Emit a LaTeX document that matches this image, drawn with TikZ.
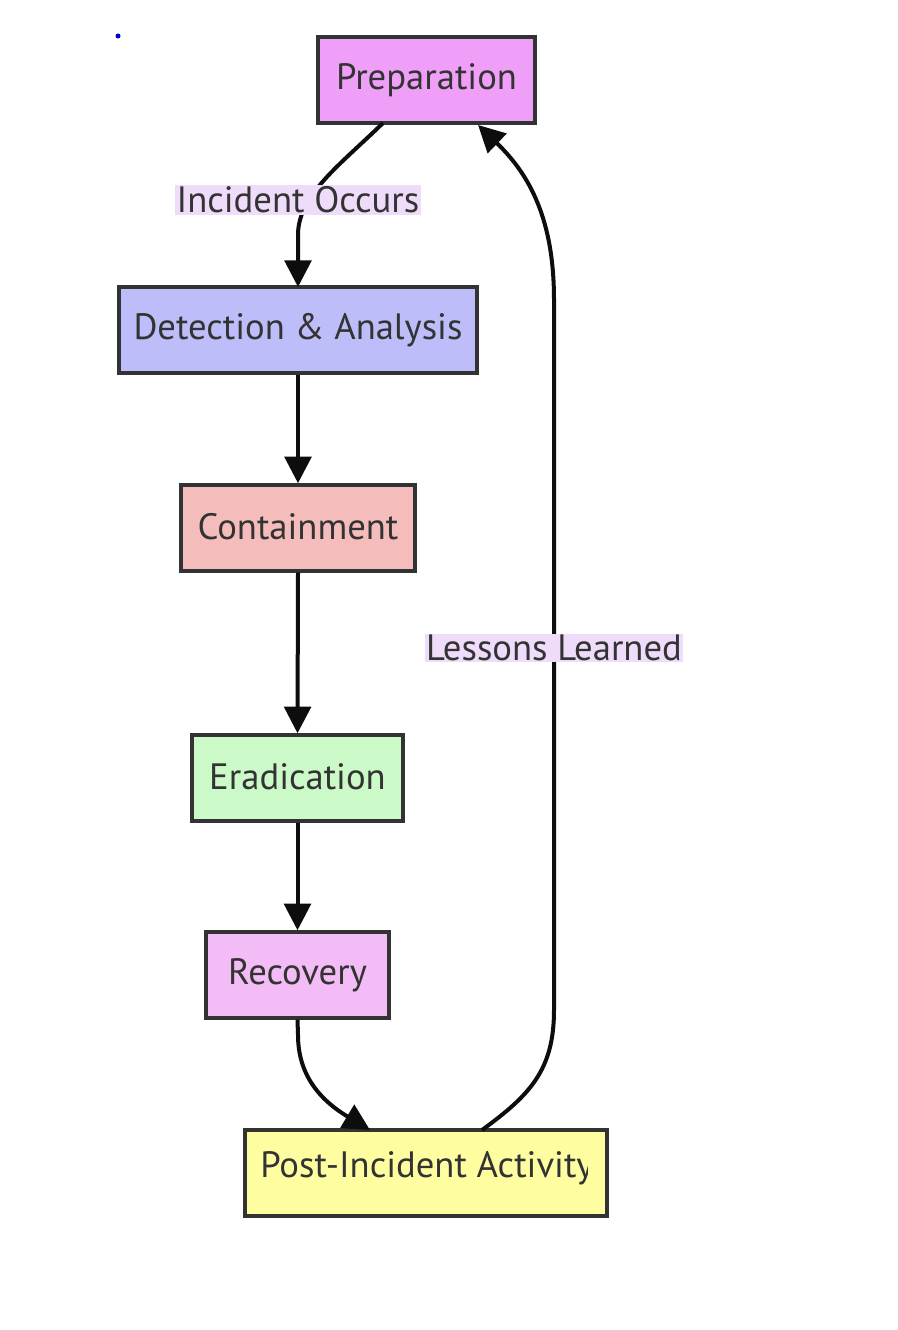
\documentclass[tikz,border=0pt]{standalone}
\usepackage{fontspec}
\setmainfont{PT Sans}
\usetikzlibrary{arrows.meta}
\definecolor{cprep}{HTML}{F09FF8}
\definecolor{cdet}{HTML}{BDBDF9}
\definecolor{ccon}{HTML}{F5BCBC}
\definecolor{cera}{HTML}{CCF9C8}
\definecolor{crec}{HTML}{F3BCF6}
\definecolor{cpost}{HTML}{FEFEA1}
\definecolor{clab}{HTML}{EFDCFA}
\definecolor{cbord}{HTML}{333333}
\definecolor{ctext}{HTML}{333333}
\tikzset{
  stage/.style={draw=cbord, line width=2.6pt, rectangle, inner sep=0pt, text=ctext, font=\fontsize{27.5}{32}\selectfont},
  elabel/.style={fill=clab, text=ctext, inner sep=1pt, font=\fontsize{27.5}{32}\selectfont},
  flow/.style={line width=3pt, draw=black!95, -{Triangle[length=20pt,width=20pt]}},
}
\begin{document}
\begin{tikzpicture}[x=0.75pt,y=-0.75pt]
\useasboundingbox (0,0) rectangle (898,1330);
\fill[white] (0,0) rectangle (898,1330);
\fill[blue!80!black] (118,36) circle (2.5);
\node[stage, fill=cprep, minimum width=163pt, minimum height=64.5pt] (prep) at (426.5,80) {\raisebox{2pt}{Preparation}};
\node[stage, fill=cdet, minimum width=268.5pt, minimum height=64.5pt] (det) at (298,330) {\raisebox{2pt}{Detection \& Analysis}};
\node[stage, fill=ccon, minimum width=175.5pt, minimum height=64.5pt] (con) at (298,528) {\raisebox{2pt}{Containment}};
\node[stage, fill=cera, minimum width=158pt, minimum height=64.5pt] (era) at (297.5,778) {\raisebox{2pt}{Eradication}};
\node[stage, fill=crec, minimum width=137pt, minimum height=64.5pt] (rec) at (297.5,975) {\raisebox{2pt}{Recovery}};
\node[stage, fill=cpost, minimum width=271.5pt, minimum height=64.5pt] (post) at (426,1173) {};
\begin{scope}
\clip (258,1140) rectangle (587,1210);
\node[text=ctext, font=\fontsize{27.5}{32}\selectfont, anchor=west, inner sep=0pt] (posttext) at (260,1168) {Post-Incident Activity};
\end{scope}
\coordinate (p1) at (383,123);
\coordinate (d1) at (298,287);
\draw[flow] (p1) .. controls (340,165) and (298,195) .. (298,235) -- (d1);
\node[elabel] (lab1) at (298,200) {Incident Occurs};
\draw[flow] (det.south) -- (con.north);
\draw[flow] (con.south) -- (era.north);
\draw[flow] (era.south) -- (rec.north);
\coordinate (r1) at (370,1130);
\draw[flow] (rec.south) -- (298,1035) .. controls (298,1075) and (320,1100) .. (r1);
\coordinate (q1) at (482,1130);
\coordinate (q2) at (478,125);
\draw[flow] (q1) .. controls (530,1095) and (554,1070) .. (554,1010) -- (554,300) .. controls (554,220) and (530,175) .. (q2);
\node[elabel] (lab2) at (554,648) {Lessons Learned};
\end{tikzpicture}
\end{document}
